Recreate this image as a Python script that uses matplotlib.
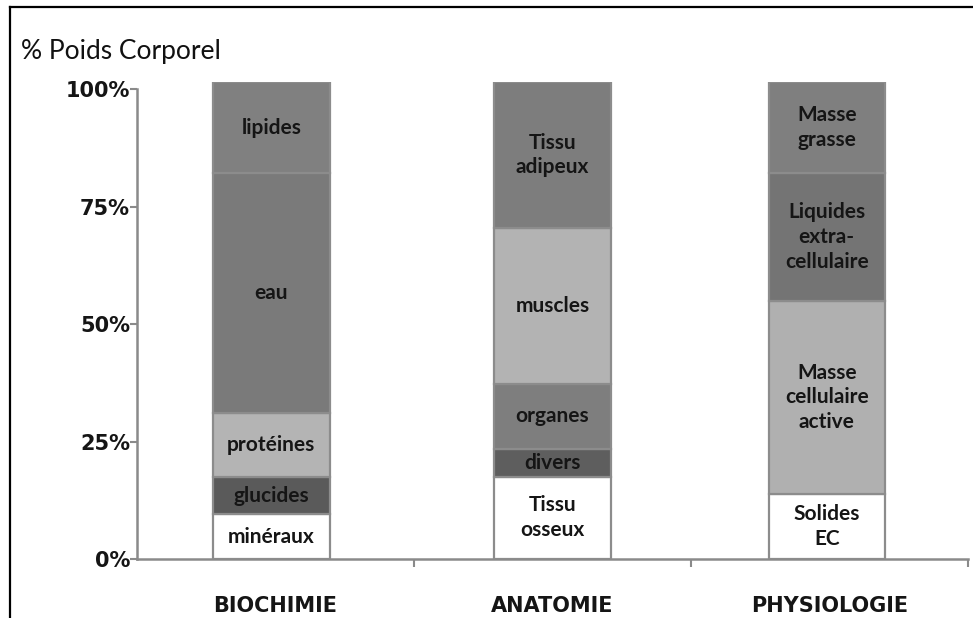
import matplotlib
matplotlib.use("Agg")
import matplotlib.pyplot as plt
from matplotlib.lines import Line2D
import numpy as np

# ---- data ----
categories = ["BIOCHIMIE", "ANATOMIE", "PHYSIOLOGIE"]

biochimie_labels = ["minéraux", "glucides", "protéines", "eau", "lipides"]
biochimie_values = [9.5, 8.0, 13.6, 51.0, 19.4]

anatomie_labels = ["Tissu\nosseux", "divers", "organes", "muscles", "Tissu\nadipeux"]
anatomie_values = [17.5, 6.0, 13.7, 33.2, 31.1]

physiologie_labels = ["Solides\nEC", "Masse\ncellulaire\nactive", "Liquides\nextra-\ncellulaire", "Masse\ngrasse"]
physiologie_values = [13.9, 41.0, 27.3, 19.3]

ytick_values = [0, 25, 50, 75, 100]
ytick_labels = ["0%", "25%", "50%", "75%", "100%"]

# ---- styles ----
seg_colors = [
    ["#ffffff", "#5a5a5a", "#b4b4b4", "#7a7a7a", "#808080"],
    ["#ffffff", "#5e5e5e", "#7e7e7e", "#b3b3b3", "#7d7d7d"],
    ["#ffffff", "#b0b0b0", "#747474", "#7f7f7f"],
]
all_values = [biochimie_values, anatomie_values, physiologie_values]
all_labels = [biochimie_labels, anatomie_labels, physiologie_labels]

W, H = 973, 618
fig = plt.figure(figsize=(W / 100, H / 100), dpi=100)
left, right = 137 / W, 968 / W
bottom, top = (H - 559) / H, (H - 82) / H
ax = fig.add_axes([left, bottom, right - left, top - bottom])

x = np.arange(len(categories))
bar_w = 0.42
offsets = [-0.015, 0.0, -0.01]
for i, (vals, labs, cols) in enumerate(zip(all_values, all_labels, seg_colors)):
    base = 0.0
    xi = x[i] + offsets[i]
    for v, lab, c in zip(vals, labs, cols):
        ax.bar(xi, v, bottom=base, width=bar_w, color=c, edgecolor="#8c8c8c",
               linewidth=1.6, zorder=3)
        ax.text(xi, base + v / 2, lab, ha="center", va="center", fontsize=15,
                family="Lato", fontweight="bold", color="#151515",
                linespacing=1.3, zorder=4)
        base += v

ax.set_xlim(-0.5, 2.5)
ax.set_ylim(0, 101.5)

for s in ["top", "right"]:
    ax.spines[s].set_visible(False)
for s in ["left", "bottom"]:
    ax.spines[s].set_color("#8a8a8a")
    ax.spines[s].set_linewidth(1.8)
ax.spines["left"].set_bounds(0, 100)

ax.set_yticks(ytick_values)
ax.set_yticklabels(ytick_labels, fontsize=15, fontweight="bold",
                   family="DejaVu Sans", color="#151515")
ax.tick_params(axis="y", direction="out", length=5, width=1.5, color="#8a8a8a", pad=0)

ax.set_xticks(x)
ax.set_xticklabels(categories, fontsize=15, fontweight="bold",
                   family="DejaVu Sans", color="#151515")
ax.tick_params(axis="x", which="major", length=0, pad=27)
ax.set_xticks([0.5, 1.5, 2.5], minor=True)
ax.tick_params(axis="x", which="minor", direction="out", length=6, width=1.5, color="#8a8a8a")

fig.text(21 / W, (H - 59) / H, "% Poids Corporel", fontsize=19, family="Lato",
         ha="left", va="baseline", color="#111111")

# frame lines (top and left)
fig.add_artist(Line2D([10 / W, 1.0], [(H - 7) / H, (H - 7) / H], color="black", lw=1.6,
                      transform=fig.transFigure))
fig.add_artist(Line2D([10 / W, 10 / W], [0, (H - 7) / H], color="black", lw=1.6,
                      transform=fig.transFigure))

fig.savefig("out.png", dpi=100)
